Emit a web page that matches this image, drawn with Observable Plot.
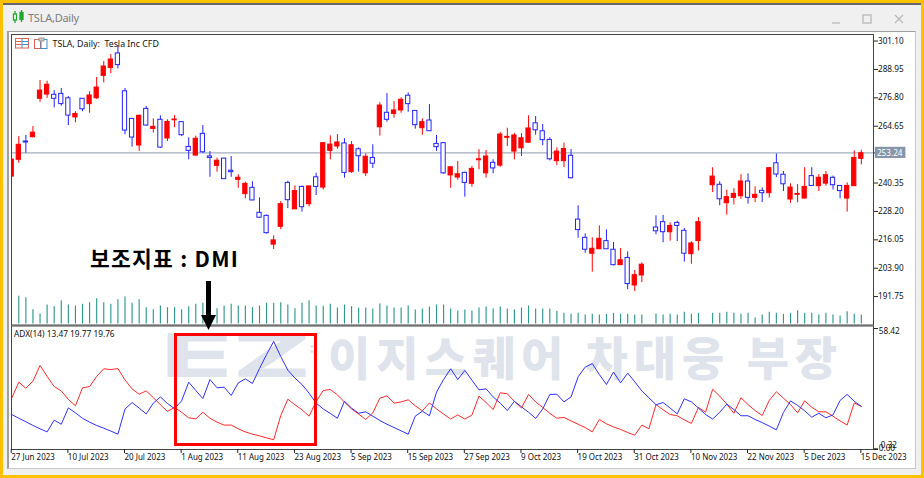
<!DOCTYPE html>
<html><head><meta charset="utf-8">
<script src="https://cdn.jsdelivr.net/npm/d3@7"></script>
<script src="https://cdn.jsdelivr.net/npm/@observablehq/plot@0.6"></script>
<style>
html,body{margin:0;padding:0;width:924px;height:478px;overflow:hidden;background:#ffc000}
#win{position:absolute;left:3px;top:3px;width:918px;height:472px;background:#f0f0f0;border-top:2.5px solid #666;box-sizing:border-box}
#inner{position:absolute;left:7px;top:31px;width:909px;height:438px;background:#fff;border-top:1.5px solid #a0a0a0;border-left:2px solid #a0a0a0;border-bottom:1px solid #c8c8c8;border-right:1px solid #c8c8c8;box-sizing:border-box}
.abs{position:absolute}
.t{position:absolute;font-family:"Noto Sans",sans-serif;white-space:nowrap}
svg.plot-layer{position:absolute;left:0;background:transparent}
</style></head><body>
<div id="win"></div><div id="inner"></div>
<div id="root"></div>
<script>
const high=[250.4,260.25,260.7,264.5,284.2,283.9,279.9,280.8,277.4,270.9,
276.5,279.4,285.5,292.3,295.3,299.2,280.8,267.9,269.5,273.1,
267.8,269.1,267.4,269.2,266.4,259.7,260.4,264.95,253.8,250.97,
250.9,251.7,243.9,240.7,240.9,234,226.7,217.8,232.4,241.1,
239.1,239,239,244.5,257.5,260.5,261.1,259.3,258.1,255.4,
252.8,256.7,274.7,278.6,275.2,276.8,278.9,271.2,267.8,273.9,
260.7,257.7,247.1,249.6,245,247.4,254.6,254.3,250.3,261.96,
263.8,261.5,261.5,269.1,268.8,265.4,259.7,255.4,257.4,254.7,
230.6,218.6,216.9,222,220.3,214.9,212.3,210.9,202.9,206.2,
205.4,226.3,226.5,223.3,224,220.9,215.2,225.5,223.6,246.9,
240.9,237.3,237.9,243.9,244.3,238.7,238.3,246.9,252.8,245.3,
240,239.7,246.9,246.9,243.9,245.3,243.3,239.3,240.4,254.1,254.4];
const bodyTop=[250.4,256.7,258.1,261.9,279.9,282.4,278.1,278.5,276.6,269.9,
276.4,277.8,281.2,290.2,293.2,295.8,279.6,267.8,269.1,272.1,
264.4,267.4,266.5,267.5,266.4,255.8,259.3,261.4,251.7,249.9,
250.8,245.6,242.6,240,238.3,227.6,226.3,215.8,231.3,240.4,
236.9,238.7,238.9,242.8,257.4,256.8,257.7,257.3,256.5,254.8,
251.6,251.1,273.5,270.4,271.4,275.95,277.7,271.2,266.4,267.1,
257.1,257.4,247.1,244.1,244.7,246.4,250.5,251.7,249,261.1,
260.1,260.7,259.5,263.7,265.9,262.5,258.8,253.8,254.9,252,
224.7,216.9,212.2,216.5,215.5,211.8,207.3,208.3,200.9,205.4,
205.4,221.3,223.6,222,223.3,219.9,214.5,223.6,223.6,243.1,
239.6,234.3,235.7,241,241,235.3,237,246.7,248.8,243.9,
238.4,235.7,238.7,243.3,242.6,243.7,242.6,239.1,239.1,251.1,253.1];
const bodyBottom=[243.1,250.3,257.7,259.95,276.4,278.2,276.4,274.1,269.2,268.4,
271.9,274.1,276.6,286.2,289.6,290.8,262.8,259.8,256.4,264.95,
263.5,255.5,259.4,267.2,260.8,254.1,252.1,253.5,251.1,247.7,
242,245,241.7,235.6,232.9,225.5,218.9,214,221.6,233,
229.1,230,231.3,238.7,238.4,254.1,255.97,244.7,245,251.8,
244.5,248.6,264.2,267.4,269.9,271.4,274.1,265.1,263.8,262.5,
255.7,244.5,243.6,242.7,240.4,240,250.1,244.5,246.6,247.8,
259.7,253.8,255.2,257.6,262.9,258.7,250.5,249.7,249.7,242.4,
220.2,211.8,210.1,212,212,205.2,205.2,197.1,196.5,200.8,
205.4,219.7,219.3,219.3,222,210.1,209.9,215.5,223.6,239.4,
233.4,231.7,234,234.7,234,234,236,236,244,239.8,
233.3,235.3,233.7,239.1,239,240.1,239.4,236.9,233.7,239,250.7];
const low=[243.1,248.8,253.1,259.7,274.9,276.6,272.5,273.2,264.95,266.1,
270.9,270.2,276.1,283.2,287.1,289.2,261,255.7,253.9,264.65,
261.7,255.2,258.1,264,260.2,250.3,251.8,253.1,242.8,245,
242,242.8,238.1,233.6,232.7,225.3,218.5,211.9,220.4,229.4,
229,227.9,230.2,235,237.4,250.3,254.8,242.4,244.5,245,
243.1,246.6,260.4,266.4,268.1,270.2,270.6,263.4,260.8,262.4,
253.9,244.1,238.1,241.6,234.3,238.6,246,242.4,244.3,247.1,
255.97,250.3,251.7,257.4,260.8,256.3,249.8,247.8,246.9,242.1,
216.7,210.3,202.2,211.9,212,204.9,205.2,194.7,193.9,197.7,
205.4,218.2,214.8,215.5,215.3,206.5,205.6,211.3,223.6,236.3,
230.6,226.6,231,233.3,231.3,232,232,233.9,242.7,236.7,
231.6,231.9,233.6,238.9,236.7,239,237.4,233.6,227.9,238.9,248.1];
const direction=("u u d u u u d d d u d u u u u d d d u d u d u u d d u d d u "+
"d d u u d d d u u d u d u d u u u d u d u d u d u u d d u d "+
"d d u u d u u u d u u u u u d d d u u d d d u u d d u d u u "+
"f d d u d d u u f u d u u u d u d u d d u u u d u u d d u u u").split(" ");
const volume=[0,83,79,43,30,57,52,70,57,54,
59,64,76,64,59,73,81,62,73,49,
43,54,49,49,43,52,59,62,62,46,
54,59,54,54,49,54,62,62,64,57,
46,62,70,54,53,59,48,57,52,48,
48,45,60,54,48,48,54,42,45,51,
57,57,45,39,42,39,48,51,45,51,
45,42,48,54,45,45,45,38,32,29,
32,27,29,27,29,32,29,29,27,27,
0,30,27,29,27,35,29,32,0,32,
32,35,32,29,32,18,27,35,32,29,
32,40,32,32,27,32,27,24,37,29,27];
const minusDI=[24.8,32.5,29.6,33.0,40.6,35.3,30.4,28.3,24.2,21.1,29.8,30.4,35.3,39.0,38.6,39.1,33.6,29.3,26.7,28.3,25.1,21.6,18.4,20.3,18.0,15.3,14.8,18.0,15.1,13.2,11.8,11.8,10.0,8.5,7.4,6.6,5.6,4.7,16.4,24.3,21.6,19.2,16.1,23.2,
28.5,29.0,26.4,22.9,19.6,17.1,14.5,17.7,24.8,25.9,22.4,23.0,24.0,21.1,18.7,22.5,19.6,17.1,14.7,16.7,14.7,16.6,25.8,22.7,19.3,27.4,26.9,23.2,20.1,26.6,23.0,20.3,17.5,15.1,15.5,13.8,12.2,10.6,8.5,14.5,12.4,10.9,9.7,8.2,
6.9,11.8,10.0,21.7,19.2,16.9,16.3,14.3,12.6,20.3,18.0,29.1,25.8,21.9,17.5,25.0,21.7,18.8,16.4,23.7,27.9,24.8,21.7,17.7,23.5,20.4,18.2,18.2,16.1,13.8,11.8,22.5,20.8];
const plusDI=[16.9,15.1,13.4,11.6,10.0,8.5,14.2,12.2,20.1,17.7,15.1,13.2,11.6,10.3,8.9,7.4,19.5,22.7,20.0,17.2,22.4,25.4,22.2,19.8,23.5,32.5,28.5,24.6,33.8,29.8,30.1,26.1,32.2,34.1,31.9,39.1,45.9,52.2,44.9,38.3,34.5,31.4,27.2,22.4,
19.6,17.4,15.1,23.3,20.0,17.5,18.2,16.1,14.0,12.2,10.6,9.0,7.4,16.1,18.5,16.3,27.7,33.8,39.0,33.8,38.2,33.5,28.8,29.3,25.4,22.4,18.8,23.3,20.6,18.0,15.0,19.6,26.6,26.7,23.0,25.4,35.1,39.8,41.5,36.2,31.4,37.4,32.2,36.9,
32.7,28.3,25.0,21.6,22.7,20.0,17.2,24.5,23.0,20.0,16.9,14.7,18.0,21.9,19.3,16.3,16.3,14.5,13.0,11.3,9.5,17.9,23.5,21.3,18.7,15.6,17.5,15.3,16.7,23.7,26.6,23.3,20.8];
const priceTicks=[301.10,288.95,276.80,264.65,240.35,228.20,216.05,203.90,191.75];
const lastPrice=253.24;
const dateTickIndex=[0,8,16,24,32,40,48,56,64,72,80,88,96,104,112,120];
const dateTickLabels=["27 Jun 2023","10 Jul 2023","20 Jul 2023","1 Aug 2023","11 Aug 2023","23 Aug 2023","5 Sep 2023","15 Sep 2023","27 Sep 2023","9 Oct 2023","19 Oct 2023","31 Oct 2023","10 Nov 2023","22 Nov 2023","5 Dec 2023","15 Dec 2023"];

const FONT='"Noto Sans",sans-serif';
const idx=d3.range(high.length);
const xScale={domain:[-0.03,121.72],axis:null};
const colorOf=i=>direction[i]==="u"?"#ff0000":direction[i]==="d"?"#2222ff":"#444";
const root=document.getElementById("root");
function add(svg,top){svg.classList.add("plot-layer");svg.style.top=top+"px";svg.style.position="absolute";svg.style.left="0";svg.style.background="transparent";root.appendChild(svg);}
function el(html){const d=document.createElement("div");d.innerHTML=html;while(d.firstChild)root.appendChild(d.firstChild);}

// watermark behind the panes
el(`<div class="abs" style="left:161px;top:320px;font:800 60px Inter,sans-serif;color:#dfe3ec;transform:scaleX(1.95);transform-origin:left top;line-height:70px">EZ</div>
<div class="abs" style="left:309px;top:338px;font:900 15px Inter,sans-serif;color:#dfe3ec">:</div>
<div class="abs" style="left:328px;top:319px;font:900 46px 'Noto Sans CJK KR',sans-serif;color:#dfe3ec;letter-spacing:5.9px;line-height:72px;white-space:nowrap">이지스퀘어 차대웅 부장</div>`);

// price pane
const pricePlot=Plot.plot({
  width:924,height:332,marginTop:34,marginBottom:7.5,marginLeft:11,marginRight:51,
  style:{background:"transparent",fontFamily:FONT,fontSize:"8px",color:"#111"},
  x:xScale,
  y:{domain:[179.6,303.9],axis:null},
  marks:[
    Plot.ruleY([lastPrice],{stroke:"#a3afbd",strokeWidth:1.4}),
    Plot.ruleX(idx,{x:i=>i,y1:i=>low[i],y2:i=>high[i],stroke:colorOf,strokeWidth:1,clip:true}),
    Plot.rect(idx,{x1:i=>i-0.3,x2:i=>i+0.3,y1:i=>bodyBottom[i],y2:i=>bodyTop[i],
      fill:i=>direction[i]==="u"?"#ff0000":"#ffffff",stroke:colorOf,strokeWidth:1,clip:true}),
    Plot.frame({stroke:"#444",strokeWidth:1}),
    Plot.axisY({anchor:"right",ticks:priceTicks.concat([lastPrice]),tickFormat:d=>d===lastPrice?"":d.toFixed(2),tickSize:4,tickPadding:0.5,fontSize:8.2,textAnchor:"start",fill:"#111",stroke:"#222",label:null}),
    Plot.rect([lastPrice],{x1:121.98,x2:126.3,y1:d=>d-2.4,y2:d=>d+2.4,fill:"#8696a8"}),
    Plot.text([lastPrice],{x:122.2,y:d=>d,text:d=>d.toFixed(2),fill:"#fff",textAnchor:"start",fontSize:8.2})
  ]});
add(pricePlot,0);

// volume histogram at the foot of the price pane
const volumePlot=Plot.plot({
  width:924,height:44,marginTop:0,marginBottom:0.5,marginLeft:11,marginRight:51,
  style:{background:"transparent"},
  x:xScale,y:{domain:[0,130.5],axis:null},
  marks:[Plot.ruleX(idx.filter(i=>volume[i]>0),{x:i=>i,y1:0,y2:i=>volume[i],stroke:"#2f978e",strokeWidth:1.15})]
});
add(volumePlot,279.5);

// ADX / DMI pane
const dmiPlot=Plot.plot({
  width:924,height:155,marginTop:5.5,marginBottom:26,marginLeft:11,marginRight:51,
  style:{background:"transparent",fontFamily:FONT,fontSize:"8px",color:"#111"},
  x:xScale,y:{domain:[0,59.65],axis:null},
  marks:[
    Plot.line(idx,{x:i=>i,y:i=>minusDI[i],stroke:"#ff2a2a",strokeWidth:1}),
    Plot.line(idx,{x:i=>i,y:i=>plusDI[i],stroke:"#3030ff",strokeWidth:1}),
    Plot.frame({stroke:"#444",strokeWidth:1}),
    Plot.axisX({anchor:"bottom",ticks:dateTickIndex,tickFormat:i=>dateTickLabels[dateTickIndex.indexOf(i)],tickSize:4,tickPadding:1,textAnchor:"start",fontSize:8,dx:-0.5,stroke:"#222",fill:"#111",label:null}),
    Plot.axisY({anchor:"right",ticks:[58.42,0.32,0],tickFormat:d=>"",tickSize:4,stroke:"#222",label:null}),
    Plot.text([58.42,0.32,0],{x:121.9,y:d=>d,text:d=>d.toFixed(2),fill:"#111",textAnchor:"start",fontSize:8.2,dx:4,
      render:(i,s,v,d,c,n)=>{const g=n(i,s,v,d,c);g.querySelectorAll("text").forEach((t,k)=>t.setAttribute("transform",(t.getAttribute("transform")||"")+` translate(${[0,2,0][k]},${[2.5,-3.5,-1][k]})`));return g;}})
  ]});
add(dmiPlot,320);

// window chrome and annotations
el(`
<svg class="abs" style="left:12px;top:9px" width="14" height="16"><g stroke="#1fa82f" fill="#fff" stroke-width="1.3"><line x1="3" y1="2" x2="3" y2="14"/><rect x="1.5" y="5" width="3" height="6"/><line x1="9.5" y1="1" x2="9.5" y2="13"/><rect x="8" y="3.5" width="3" height="7" fill="#1fa82f"/></g></svg>
<div class="t" style="left:28px;top:9px;font-size:11px;color:#7d7d7d;line-height:17px;letter-spacing:-.25px">TSLA,Daily</div>
<svg class="abs" style="left:830px;top:10px" width="80" height="16"><g stroke="#b8b8b8" fill="none" stroke-width="1.3"><line x1="2" y1="13" x2="10" y2="13"/><rect x="33" y="5" width="8" height="8"/><path d="M65 5l8 8M73 5l-8 8"/></g></svg>
<svg class="abs" style="left:14px;top:37px" width="36" height="13">
<rect x="1.5" y="1.5" width="13" height="9.5" fill="#fff" stroke="#e06050"/><path d="M1.5 4.5h6M1.5 7.5h6" stroke="#e06050"/><path d="M8 4.5h6.5M8 7.5h6.5M8 1.5v9.5" stroke="#3a8fd0"/>
<rect x="20.5" y="2.5" width="6" height="9" fill="#fff" stroke="#e06050"/><rect x="27" y="2.5" width="6" height="9" fill="#fff" stroke="#3a8fd0"/><rect x="25" y="1" width="5" height="3" fill="#ccc" stroke="#999"/></svg>
<div class="t" style="left:52.5px;top:38px;font-size:8.8px;color:#111;line-height:12px">TSLA, Daily:&nbsp; Tesla Inc CFD</div>
<div class="t" style="left:14px;top:328px;font-size:8.3px;color:#111;line-height:12px">ADX(14) 13.47 19.77 19.76</div>
<div class="t" style="left:90px;top:243px;font:700 21.5px 'Noto Sans CJK KR',sans-serif;color:#000;line-height:30px;letter-spacing:1.25px">보조지표 : DMI</div>
<div class="abs" style="left:206px;top:281px;width:5px;height:36px;background:#000"></div>
<svg class="abs" style="left:200px;top:315px" width="18" height="15"><polygon points="1,0 16,0 8.5,15" fill="#000"/></svg>
<div class="abs" style="left:173.5px;top:332.5px;width:143px;height:113px;border:3px solid #f00;box-sizing:border-box"></div>
`);
</script>
</body></html>
